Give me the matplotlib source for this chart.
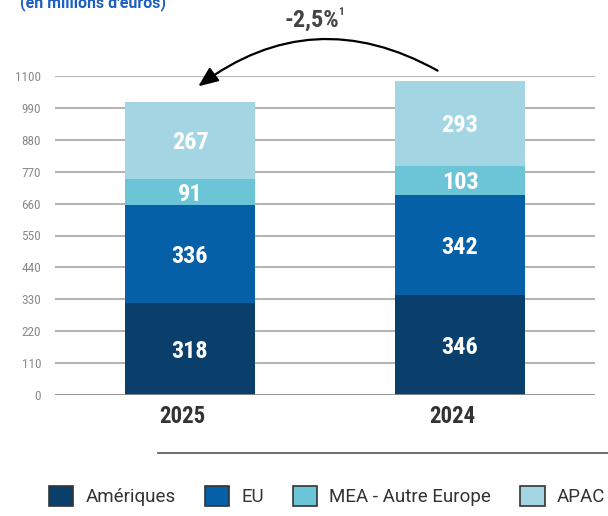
import numpy as np
import matplotlib.pyplot as plt
from matplotlib.patches import Patch, FancyArrowPatch
from matplotlib import font_manager

years = ['2025', '2024']
regions = ['Amériques', 'EU', 'MEA - Autre Europe', 'APAC']
ameriques = [318, 346]
eu = [336, 342]
mea = [91, 103]
apac = [267, 293]
yticks = [0, 110, 220, 330, 440, 550, 660, 770, 880, 990, 1100]

colors = ['#0b3f6b', '#0560a8', '#6bc5d6', '#a3d5e2']

names = {f.name for f in font_manager.fontManager.ttflist}


def pick(cands):
    for c in cands:
        if c in names:
            return c
    return 'DejaVu Sans'


narrow = pick(['Roboto Condensed', 'Barlow Condensed', 'Oswald', 'Liberation Sans Narrow'])
regular = pick(['Roboto', 'Open Sans'])

fig = plt.figure(figsize=(6.08, 5.16), dpi=100)
ax = fig.add_axes([55 / 608, 1 - 395 / 516, 540 / 608, 319 / 516])

x = np.arange(len(years))
w = 0.48
bottom = np.zeros(len(years))
for vals, c in zip([ameriques, eu, mea, apac], colors):
    ax.bar(x, vals, w, bottom=bottom, color=c, zorder=3)
    for xi, b, v in zip(x, bottom, vals):
        ax.text(xi, b + v / 2 - 8, str(v), ha='center', va='center', color='white',
                fontsize=17.5, fontweight='bold', family=narrow, zorder=4)
    bottom += np.array(vals)

ax.set_xlim(-0.5, 1.5)
ax.set_ylim(0, 1100)
for t in yticks[1:]:
    ax.axhline(t, color='#b5b5b5', lw=1.5, zorder=1)
ax.axhline(0, color='#8a8a8a', lw=2, zorder=5)
for s in ax.spines.values():
    s.set_visible(False)
ax.set_xticks([])
ax.set_yticks(yticks)
ax.set_yticklabels([str(t) for t in yticks], family=narrow, fontsize=9.5, color='#8a8a8a')
ax.tick_params(axis='y', length=0, pad=10)

for xi, yr in zip(x, years):
    ax.text(xi - 0.03, -74, yr, ha='center', va='center', fontsize=16.5, fontweight='bold',
            color='#333333', family=narrow)

# title (cut at top, as in the source)
fig.text(20 / 608, 1 + 6 / 516, "(en millions d'euros)", ha='left', va='top',
         fontsize=11.5, fontweight='bold', color='#1f5fbf', family=regular)

# variation arrow
arrow = FancyArrowPatch((440 / 608, 1 - 72 / 516), (196 / 608, 1 - 88 / 516),
                        transform=fig.transFigure, connectionstyle='arc3,rad=0.33',
                        arrowstyle='-|>,head_length=12,head_width=5', lw=1.6,
                        color='black', mutation_scale=1)
fig.patches.append(arrow)
fig.text(312 / 608, 1 - 20 / 516, '-2,5%', ha='center', va='center', fontsize=17.5,
         fontweight='bold', color='#444444', family=narrow)
fig.text(341 / 608, 1 - 12 / 516, '1', ha='center', va='center', fontsize=8,
         fontweight='bold', color='#444444', family=narrow)

# bottom separator line
fig.add_artist(plt.Line2D([158 / 608, 1], [1 - 453 / 516] * 2, color='#555555', lw=1.2))

handles = [Patch(facecolor=c, edgecolor='#333333', lw=1.2) for c in colors]
leg = fig.legend(handles, regions, loc='center', bbox_to_anchor=(327 / 608, 1 - 496 / 516),
                 ncol=4, frameon=False, handlelength=1.3, handleheight=1.3,
                 columnspacing=1.55, handletextpad=0.65,
                 prop={'family': regular, 'size': 13.5})
for t in leg.get_texts():
    t.set_color('#333333')

fig.savefig('out.png', dpi=100)
